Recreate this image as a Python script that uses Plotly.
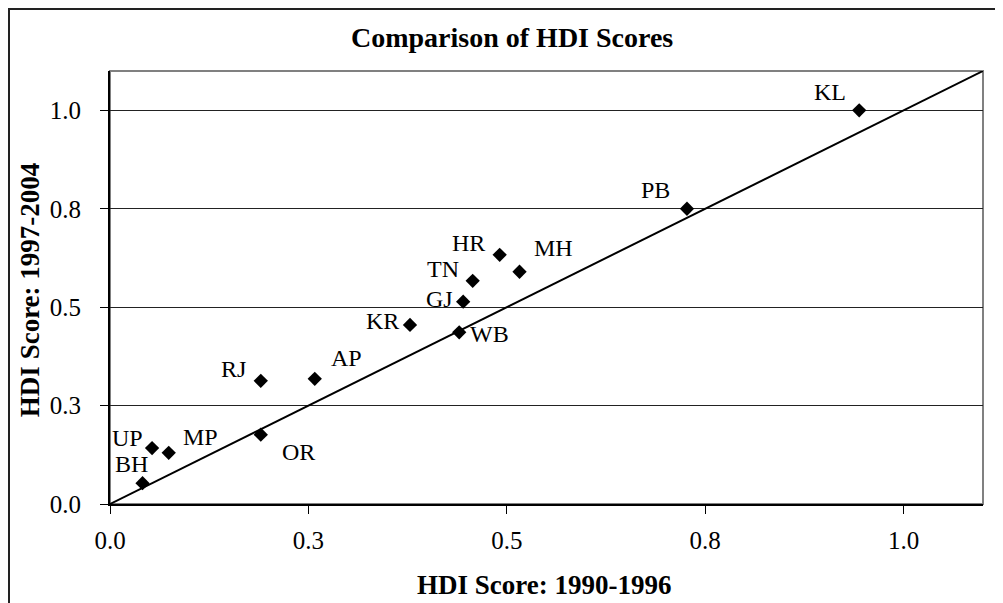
import plotly.graph_objects as go

# ---- data ----
states = ["KL", "PB", "MH", "HR", "TN", "GJ", "KR", "WB", "AP", "RJ", "OR", "MP", "UP", "BH"]
hdi_1990_1996 = [0.944, 0.727, 0.516, 0.491, 0.457, 0.445, 0.378, 0.440, 0.258, 0.190, 0.190, 0.074, 0.053, 0.041]
hdi_1997_2004 = [1.000, 0.750, 0.590, 0.633, 0.567, 0.514, 0.455, 0.436, 0.318, 0.313, 0.176, 0.130, 0.142, 0.053]
ref_line_x = [0.0, 1.1]
ref_line_y = [0.0, 1.1]
tick_vals = [0.0, 0.25, 0.5, 0.75, 1.0]
tick_text = ["0.0", "0.3", "0.5", "0.8", "1.0"]

# label offsets in screen pixels (dx right, dy down) - styling only
label_offsets = {
    "KL": (-29, -17), "PB": (-31, -18), "MH": (34, -23), "HR": (-31, -11),
    "TN": (-30, -11), "GJ": (-24, -2), "KR": (-27, -3), "WB": (30, 3),
    "AP": (32, -20), "RJ": (-27, -11), "OR": (38, 18), "MP": (32, -15),
    "UP": (-25, -9), "BH": (-11, -18),
}

FONT = "Liberation Serif, Times New Roman, serif"

fig = go.Figure()
fig.add_trace(go.Scatter(
    x=ref_line_x, y=ref_line_y, mode="lines",
    line=dict(color="black", width=2), hoverinfo="skip", showlegend=False,
))
fig.add_trace(go.Scatter(
    x=hdi_1990_1996, y=hdi_1997_2004, mode="markers", text=states,
    marker=dict(symbol="diamond", size=11, color="black"),
    showlegend=False, cliponaxis=False,
))

annotations = []
for s, xv, yv in zip(states, hdi_1990_1996, hdi_1997_2004):
    dx, dy = label_offsets[s]
    annotations.append(dict(
        x=xv, y=yv, xref="x", yref="y", text=s, showarrow=False,
        xanchor="center", yanchor="middle", xshift=dx, yshift=-dy + 1,
        font=dict(family=FONT, size=24, color="black"),
    ))

annotations += [
    dict(text="<b>Comparison of HDI Scores</b>", xref="paper", yref="paper",
         x=0.4605, y=1.077, xanchor="center", yanchor="middle", showarrow=False,
         font=dict(family=FONT, size=28, color="black")),
    dict(text="<b>HDI Score: 1990-1996</b>", xref="paper", yref="paper",
         x=0.497, y=-0.187, xanchor="center", yanchor="middle", showarrow=False,
         font=dict(family=FONT, size=27, color="black")),
    dict(text="<b>HDI Score: 1997-2004</b>", xref="paper", yref="paper",
         x=-0.0916, y=0.494, xanchor="center", yanchor="middle", showarrow=False,
         textangle=-90, font=dict(family=FONT, size=27, color="black")),
]

shapes = [
    # plot-area border (gray)
    dict(type="rect", xref="paper", yref="paper", x0=0, y0=0, x1=1, y1=1,
         line=dict(color="#808080", width=2), layer="below"),
    # outer chart border (cropped at right/bottom)
    dict(type="rect", xref="paper", yref="paper", x0=-0.1157, y0=-0.5, x1=1.5, y1=1.143,
         line=dict(color="#222222", width=2), layer="below"),
]

# page body has an 8px default margin, so the figure is sized to fit the window
fig.update_layout(
    width=995, height=595,
    margin=dict(l=102, r=20, t=63, b=99),
    paper_bgcolor="white", plot_bgcolor="white",
    annotations=annotations, shapes=shapes,
    font=dict(family=FONT, color="black"),
    xaxis=dict(
        range=[0, 1.1], tickvals=tick_vals, ticktext=tick_text,
        showgrid=False, zeroline=False, showline=True, linecolor="black", linewidth=2,
        ticks="outside", ticklen=8, tickcolor="black", tickwidth=1,
        tickfont=dict(family=FONT, size=25, color="black"), ticklabelstandoff=5,
    ),
    yaxis=dict(
        range=[0, 1.1], tickvals=tick_vals, ticktext=tick_text,
        showgrid=True, gridcolor="#222222", gridwidth=1, zeroline=False,
        showline=True, linecolor="black", linewidth=2,
        ticks="outside", ticklen=8, tickcolor="black", tickwidth=1,
        tickfont=dict(family=FONT, size=25, color="black"), ticklabelstandoff=14,
    ),
)

fig.write_html("out.html")
